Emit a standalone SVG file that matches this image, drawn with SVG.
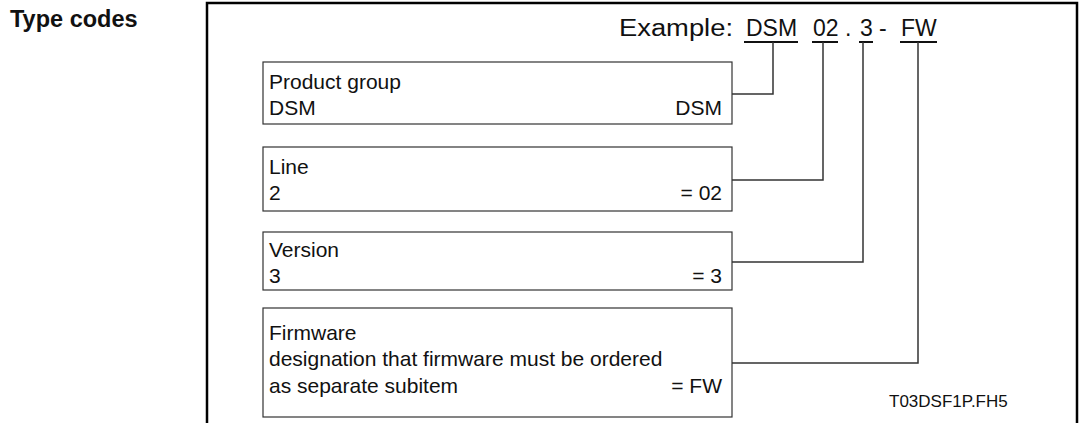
<svg xmlns="http://www.w3.org/2000/svg" width="1080" height="423" viewBox="0 0 1080 423">
<style>
text{font-family:"Liberation Sans",Arial,sans-serif;fill:#111}
.t{font-size:21px}
.ex{font-size:23px}
.box{fill:#fff;stroke:#333;stroke-width:1.2}
.con{fill:none;stroke:#333;stroke-width:1.5}
.ul{stroke:#111;stroke-width:2}
</style>
<rect width="1080" height="423" fill="#fff"/>
<text x="10" y="27" style="font-size:23.5px;font-weight:bold">Type codes</text>
<path d="M207,430 V3 H1077 V430" fill="none" stroke="#000" stroke-width="2.5"/>
<g id="example">
<text class="ex" x="619" y="36" textLength="114" lengthAdjust="spacingAndGlyphs">Example:</text>
<text class="ex" x="746" y="36">DSM</text>
<text class="ex" x="813" y="36">02</text>
<text class="ex" x="845" y="36">.</text>
<text class="ex" x="860" y="36">3</text>
<text class="ex" x="879" y="36">-</text>
<text class="ex" x="901" y="36">FW</text>
<line class="ul" x1="744" y1="42" x2="798" y2="42"/>
<line class="ul" x1="812" y1="42" x2="838" y2="42"/>
<line class="ul" x1="859" y1="42" x2="873" y2="42"/>
<line class="ul" x1="900" y1="42" x2="937" y2="42"/>
</g>
<g id="product">
<rect class="box" x="263" y="62" width="469" height="62"/>
<text class="t" x="269" y="89">Product group</text>
<text class="t" x="269" y="115">DSM</text>
<text class="t" x="722" y="115" text-anchor="end">DSM</text>
</g>
<g id="line">
<rect class="box" x="263" y="147" width="469" height="64"/>
<text class="t" x="269" y="174">Line</text>
<text class="t" x="269" y="200">2</text>
<text class="t" x="722" y="200" text-anchor="end">= 02</text>
</g>
<g id="version">
<rect class="box" x="263" y="232" width="469" height="58"/>
<text class="t" x="269" y="257">Version</text>
<text class="t" x="269" y="283">3</text>
<text class="t" x="722" y="283" text-anchor="end">= 3</text>
</g>
<g id="firmware">
<rect class="box" x="263" y="308" width="469" height="109"/>
<text class="t" x="269" y="340">Firmware</text>
<text class="t" x="269" y="366">designation that firmware must be ordered</text>
<text class="t" x="269" y="393">as separate subitem</text>
<text class="t" x="722" y="393" text-anchor="end">= FW</text>
</g>
<g id="connectors">
<path class="con" d="M732,94 H773 V42"/>
<path class="con" d="M732,180 H823 V42"/>
<path class="con" d="M732,262 H863 V42"/>
<path class="con" d="M732,363 H918 V42"/>
</g>
<text x="889" y="407" style="font-size:17px">T03DSF1P.FH5</text>
</svg>
